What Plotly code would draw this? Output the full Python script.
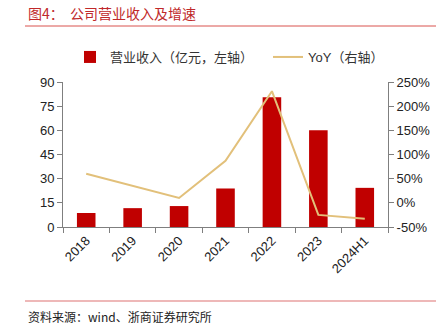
import plotly.graph_objects as go

categories = ["2018", "2019", "2020", "2021", "2022", "2023", "2024H1"]
revenue = [8.7, 11.7, 13.0, 23.9, 80.5, 60.0, 24.3]
yoy = [60, 35, 10, 87, 231, -25, -33]
left_ticks = [0, 15, 30, 45, 60, 75, 90]
right_ticks = [-50, 0, 50, 100, 150, 200, 250]
right_tick_labels = [f"{v}%" for v in right_ticks]

BAR = "#C00000"
LINE = "#E2C07A"
AXIS = "#7F7F7F"
FONT = "Liberation Sans, Arial, Noto Sans CJK SC, sans-serif"
CJK = "Noto Sans CJK SC, sans-serif"

fig = go.Figure()
fig.add_trace(go.Bar(
    x=categories, y=revenue, name="营业收入（亿元，左轴）",
    marker=dict(color=BAR, line=dict(width=0)), width=0.4, yaxis="y",
    legend="legend",
))
fig.add_trace(go.Scatter(
    x=categories, y=yoy, name="YoY（右轴）", mode="lines",
    line=dict(color=LINE, width=2), yaxis="y2", legend="legend2",
))

legend_common = dict(
    orientation="h", yanchor="middle", xanchor="left",
    font=dict(family=FONT, size=13, color="#333333"),
    itemwidth=30, bgcolor="rgba(0,0,0,0)",
)

fig.update_layout(
    width=443, height=331,
    margin=dict(l=63, r=55, t=82, b=104),
    paper_bgcolor="white", plot_bgcolor="white",
    font=dict(family=FONT, size=13, color="#222222"),
    showlegend=True,
    legend=dict(x=(70 - 63) / 325, y=(227 - 57) / 145, **legend_common),
    legend2=dict(x=(268 - 63) / 325, y=(227 - 57) / 145, **legend_common),
    bargap=0.6,
    xaxis=dict(
        type="category", showgrid=False, showline=True, linecolor=AXIS, linewidth=1,
        ticks="outside", tickson="boundaries", ticklen=5, tickcolor=AXIS,
        tickangle=-45, tickfont=dict(family=FONT, size=13, color="#222222"),
    ),
    yaxis=dict(
        range=[0, 90], tickvals=left_ticks, showgrid=False, zeroline=False,
        showline=True, linecolor=AXIS, linewidth=1, ticks="outside", ticklen=5,
        tickcolor=AXIS, tickfont=dict(family=FONT, size=13, color="#222222"),
    ),
    yaxis2=dict(
        overlaying="y", side="right", range=[-50, 250], tickvals=right_ticks,
        ticktext=right_tick_labels, showgrid=False, zeroline=False,
        showline=True, linecolor=AXIS, linewidth=1, ticks="outside", ticklen=5,
        tickcolor=AXIS, tickfont=dict(family=FONT, size=13, color="#222222"),
    ),
)

# title and source
fig.add_annotation(
    text="图4：  公司营业收入及增速", xref="paper", yref="paper",
    x=-(63 - 26) / 325, y=(227 - 13) / 145, xanchor="left", yanchor="middle",
    showarrow=False, font=dict(family=CJK, size=14, color="#C0282A"),
)
fig.add_annotation(
    text="资料来源：wind、浙商证券研究所", xref="paper", yref="paper",
    x=-(63 - 26) / 325, y=(227 - 316) / 145, xanchor="left", yanchor="middle",
    showarrow=False, font=dict(family=CJK, size=12, color="#222222"),
)
fig.add_shape(type="line", xref="paper", yref="paper",
              x0=-(63 - 25) / 325, x1=(436 - 63) / 325,
              y0=(227 - 26) / 145, y1=(227 - 26) / 145,
              line=dict(color="#D9534F", width=1))
fig.add_shape(type="line", xref="paper", yref="paper",
              x0=-(63 - 25) / 325, x1=(436 - 63) / 325,
              y0=(227 - 301) / 145, y1=(227 - 301) / 145,
              line=dict(color="#E8A0A0", width=1.5))

fig.write_html("out.html")
